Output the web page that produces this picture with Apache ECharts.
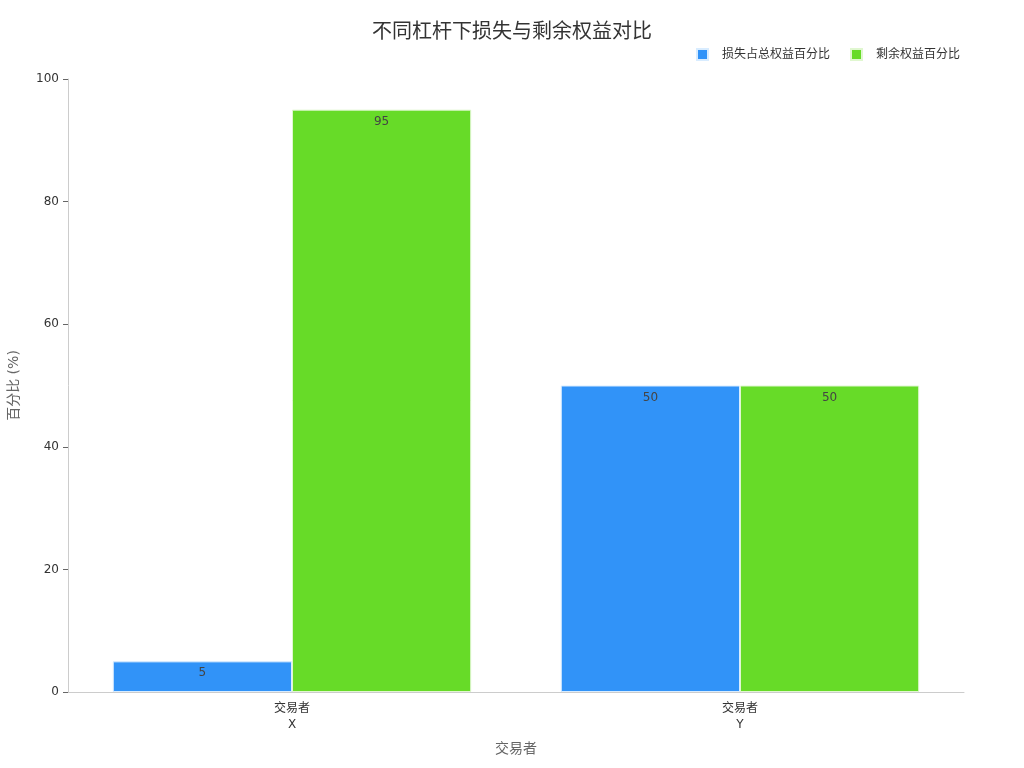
<!DOCTYPE html>
<html><head><meta charset="utf-8">
<script src="https://cdn.jsdelivr.net/npm/echarts@6/dist/echarts.min.js"></script>
<style>html,body{margin:0;padding:0;background:#fff}#c{width:1024px;height:768px}</style>
</head><body><div id="c"></div>
<script>
const categories = ['交易者\nX', '交易者\nY'];
const lossPct = [5, 50];
const remainPct = [95, 50];
const seriesNames = ['损失占总权益百分比', '剩余权益百分比'];
const yTicks = {min: 0, max: 100, interval: 20};

const chart = echarts.init(document.getElementById('c'));
const font = "'DejaVu Sans', 'Noto Sans CJK SC', sans-serif";
const labelCfg = {show: true, position: 'insideTop', color: '#444', fontSize: 12, fontFamily: font, distance: 6};
chart.setOption({
  textStyle: {fontFamily: font},
  title: {text: '不同杠杆下损失与剩余权益对比', left: 'center', top: 18,
    textStyle: {fontSize: 20, fontWeight: 'normal', color: '#333', fontFamily: font}},
  legend: {top: 43, right: 59, itemWidth: 11, itemHeight: 11, icon: 'rect', itemGap: 20,
    textStyle: {fontSize: 12, color: '#333', fontFamily: font, padding: [0, 0, 0, 9]}},
  grid: {left: 68, right: 60, top: 79, bottom: 76, containLabel: false, outerBoundsMode: 'none'},
  xAxis: {type: 'category', data: categories, name: '交易者', nameLocation: 'middle', nameGap: 50,
    nameTextStyle: {fontSize: 14, color: '#666'},
    axisLine: {lineStyle: {color: '#ccc'}},
    axisTick: {alignWithLabel: true, lineStyle: {color: '#666'}},
    axisLabel: {color: '#333', fontSize: 12, lineHeight: 16, margin: 9}},
  yAxis: {type: 'value', min: yTicks.min, max: yTicks.max, interval: yTicks.interval,
    name: '百分比 (%)', nameLocation: 'middle', nameGap: 47, nameRotate: 90,
    nameTextStyle: {fontSize: 14, color: '#666'},
    axisLine: {show: true, lineStyle: {color: '#ccc'}},
    axisTick: {show: true, lineStyle: {color: '#666'}},
    axisLabel: {color: '#333', fontSize: 12, margin: 9},
    splitLine: {show: false}},
  series: [
    {name: seriesNames[0], type: 'bar', data: lossPct, barGap: '0%', barCategoryGap: '20%',
     itemStyle: {color: '#3193F8', borderColor: '#d8ecff', borderWidth: 1}, label: labelCfg},
    {name: seriesNames[1], type: 'bar', data: remainPct,
     itemStyle: {color: '#67DB28', borderColor: '#e0f7d0', borderWidth: 1}, label: labelCfg}
  ]
});
</script></body></html>
